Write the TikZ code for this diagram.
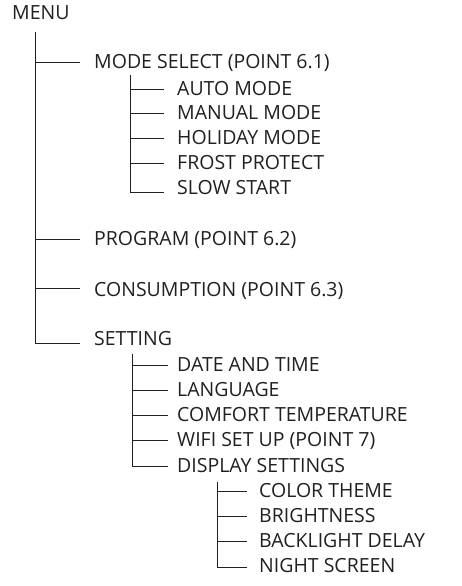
\documentclass[tikz,border=0pt]{standalone}
\usepackage{fontspec}
\setmainfont{Open Sans}
\definecolor{ink}{HTML}{231F20}
\begin{document}
\begin{tikzpicture}[x=1pt,y=-1pt,
  lbl/.style={anchor=west,inner sep=0pt,text height=13.9pt,text depth=0pt,font=\fontsize{19.5}{22}\selectfont,text=ink},
  wire/.style={draw=ink,line width=0.9pt}]
\useasboundingbox (0,0) rectangle (462,586);
% root
\node[lbl] (menu) at (12,13) {MENU};
\coordinate (t0) at (35,32);
% level 1
\node[lbl] (mode) at (94,62) {MODE SELECT (POINT 6.1)};
\node[lbl] (prog) at (94,239) {PROGRAM (POINT 6.2)};
\node[lbl] (cons) at (94,290) {CONSUMPTION (POINT 6.3)};
\node[lbl] (sett) at (94,339) {SETTING};
\coordinate (t0e) at (35,343);
\draw[wire] (t0) -- (t0e);
\draw[wire] (t0 |- mode.west) -- ([xshift=-14pt]mode.west);
\draw[wire] (t0 |- prog.west) -- ([xshift=-14pt]prog.west);
\draw[wire] ([yshift=2pt]t0 |- cons.west) -- ([xshift=-14pt,yshift=2pt]cons.west);
\draw[wire] (t0e) -- ([xshift=-14pt]t0e -| sett.west);
% mode select children
\node[lbl] (auto) at (177,89) {AUTO MODE};
\node[lbl] (man) at (177,113) {MANUAL MODE};
\node[lbl] (hol) at (177,138) {HOLIDAY MODE};
\node[lbl] (fro) at (177,163) {FROST PROTECT};
\node[lbl] (slow) at (177,188) {SLOW START};
\coordinate (t1) at (130,75);
\coordinate (t1e) at (130,192);
\draw[wire] (t1) -- (t1e);
\foreach \n in {auto,man,hol,fro}
  \draw[wire] (t1 |- \n.west) -- ([xshift=-13pt]\n.west);
\draw[wire] (t1e) -- ([xshift=-13pt]t1e -| slow.west);
% setting children
\node[lbl] (date) at (177,365) {DATE AND TIME};
\node[lbl] (lang) at (177,390) {LANGUAGE};
\node[lbl] (comf) at (177,415) {COMFORT TEMPERATURE};
\node[lbl] (wifi) at (177,440) {WIFI SET UP (POINT 7)};
\node[lbl] (disp) at (177,466) {DISPLAY SETTINGS};
\coordinate (t2) at (132,354);
\coordinate (t2e) at (132,466);
\draw[wire] (t2) -- (t2e);
\foreach \n in {date,lang,comf,wifi,disp}
  \draw[wire] (t2 |- \n.west) -- ([xshift=-9pt]\n.west);
% display children
\node[lbl] (col) at (259,491) {COLOR THEME};
\node[lbl] (bri) at (259,516) {BRIGHTNESS};
\node[lbl] (back) at (259,541) {BACKLIGHT DELAY};
\node[lbl] (night) at (259,566) {NIGHT SCREEN};
\coordinate (t3) at (217,482);
\coordinate (t3e) at (217,567);
\draw[wire] (t3) -- (t3e);
\foreach \n in {col,bri,back}
  \draw[wire] (t3 |- \n.west) -- ([xshift=-12pt]\n.west);
\draw[wire] (t3e) -- ([xshift=-12pt]t3e -| night.west);
\end{tikzpicture}
\end{document}
